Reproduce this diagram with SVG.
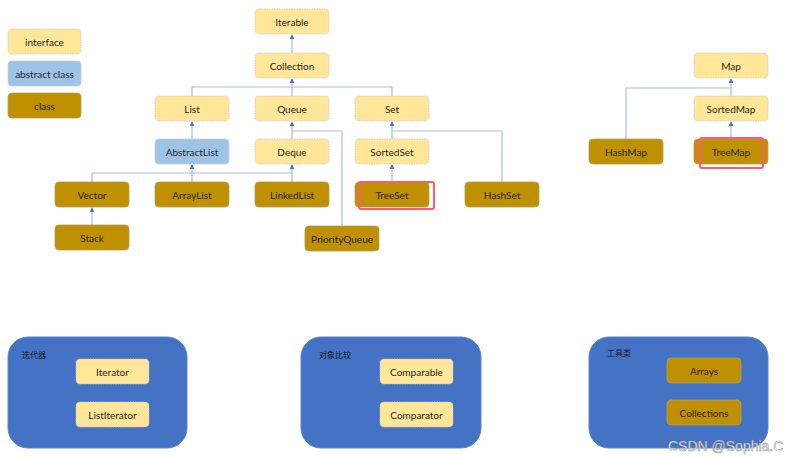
<svg xmlns="http://www.w3.org/2000/svg" width="786" height="460" viewBox="0 0 786 460">
<defs>
<marker id="arr" viewBox="0 0 6 6" refX="5" refY="3" markerWidth="4" markerHeight="4" orient="auto">
<path d="M0,0 L6,3 L0,6 z" fill="#4472c4"/>
</marker>
<style>
.i{fill:#ffe699;stroke:#c9c9c9;stroke-width:0.8;stroke-dasharray:1.5 1}
.a{fill:#9dc3e6;stroke:#c9c9c9;stroke-width:0.8}
.c{fill:#bf9000;stroke:#b0a060;stroke-width:0.8}
.t{font-family:Lato,"Open Sans",sans-serif;font-size:10px;fill:#262626;text-anchor:middle;dominant-baseline:central}
.g{fill:#4472c4;stroke:#5b83cc;stroke-width:1}
.gl{font-family:"Noto Sans CJK SC",sans-serif;font-size:8px;fill:#1a1a1a}
.ln{fill:none;stroke:#a9bcdc;stroke-width:1.2}
.ar{marker-end:url(#arr)}
.hl{fill:none;stroke:#ff5a6e;stroke-width:2}
</style>
</defs>
<rect width="786" height="460" fill="#ffffff"/>

<g id="connectors">
<path class="ln ar" d="M292,53 L292,35"/>
<path class="ln" d="M192,96 L192,87 L392,87 L392,96 M292,96 L292,87"/>
<path class="ln ar" d="M292,87 L292,79"/>
<path class="ln ar" d="M192,139 L192,122"/>
<path class="ln" d="M292,139 L292,131 L342,131 L342,226"/>
<path class="ln ar" d="M292,131 L292,122"/>
<path class="ln" d="M392,139 L392,131 L502,131 L502,182"/>
<path class="ln ar" d="M392,131 L392,122"/>
<path class="ln" d="M92,182 L92,173 L292,173 L292,182 M192,182 L192,173"/>
<path class="ln ar" d="M192,173 L192,165"/>
<path class="ln ar" d="M292,173 L292,165"/>
<path class="ln ar" d="M392,182 L392,165"/>
<path class="ln ar" d="M92,225 L92,208"/>
<path class="ln" d="M626,139 L626,88 L731,88 L731,96"/>
<path class="ln ar" d="M731,88 L731,79"/>
<path class="ln ar" d="M731,139 L731,122"/>
</g>

<g id="legend-interface"><rect class="i" x="8" y="29" width="73" height="25" rx="4"/><text class="t" x="44.5" y="41.5">interface</text></g>
<g id="legend-abstract"><rect class="a" x="8" y="61" width="73" height="25" rx="4"/><text class="t" x="44.5" y="73.5">abstract class</text></g>
<g id="legend-class"><rect class="c" x="8" y="93" width="73" height="25" rx="4"/><text class="t" x="44.5" y="105.5">class</text></g>

<g id="Iterable"><rect class="i" x="255" y="9" width="74" height="25" rx="4"/><text class="t" x="292" y="21.5">Iterable</text></g>
<g id="Collection"><rect class="i" x="255" y="53" width="74" height="25" rx="4"/><text class="t" x="292" y="65.5">Collection</text></g>
<g id="List"><rect class="i" x="155" y="96" width="74" height="25" rx="4"/><text class="t" x="192" y="108.5">List</text></g>
<g id="Queue"><rect class="i" x="255" y="96" width="74" height="25" rx="4"/><text class="t" x="292" y="108.5">Queue</text></g>
<g id="Set"><rect class="i" x="355" y="96" width="74" height="25" rx="4"/><text class="t" x="392" y="108.5">Set</text></g>
<g id="AbstractList"><rect class="a" x="155" y="139" width="74" height="25" rx="4"/><text class="t" x="192" y="151.5">AbstractList</text></g>
<g id="Deque"><rect class="i" x="255" y="139" width="74" height="25" rx="4"/><text class="t" x="292" y="151.5">Deque</text></g>
<g id="SortedSet"><rect class="i" x="355" y="139" width="74" height="25" rx="4"/><text class="t" x="392" y="151.5">SortedSet</text></g>
<g id="Vector"><rect class="c" x="55" y="182" width="74" height="25" rx="4"/><text class="t" x="92" y="194.5">Vector</text></g>
<g id="ArrayList"><rect class="c" x="155" y="182" width="74" height="25" rx="4"/><text class="t" x="192" y="194.5">ArrayList</text></g>
<g id="LinkedList"><rect class="c" x="255" y="182" width="74" height="25" rx="4"/><text class="t" x="292" y="194.5">LinkedList</text></g>
<g id="TreeSet"><rect class="c" x="355" y="182" width="74" height="25" rx="4"/><text class="t" x="392" y="194.5">TreeSet</text><rect class="hl" x="359" y="182" width="75" height="27" rx="2"/></g>
<g id="HashSet"><rect class="c" x="465" y="182" width="74" height="25" rx="4"/><text class="t" x="502" y="194.5">HashSet</text></g>
<g id="Stack"><rect class="c" x="55" y="225" width="74" height="25" rx="4"/><text class="t" x="92" y="237.5">Stack</text></g>
<g id="PriorityQueue"><rect class="c" x="305" y="226" width="74" height="25" rx="4"/><text class="t" x="342" y="238.5">PriorityQueue</text></g>

<g id="Map"><rect class="i" x="694" y="53" width="74" height="25" rx="4"/><text class="t" x="731" y="65.5">Map</text></g>
<g id="SortedMap"><rect class="i" x="694" y="96" width="74" height="25" rx="4"/><text class="t" x="731" y="108.5">SortedMap</text></g>
<g id="HashMap"><rect class="c" x="589" y="139" width="74" height="25" rx="4"/><text class="t" x="626" y="151.5">HashMap</text></g>
<g id="TreeMap"><rect class="c" x="694" y="139" width="74" height="25" rx="4"/><text class="t" x="731" y="151.5">TreeMap</text><rect class="hl" x="700" y="138" width="63" height="30" rx="2"/></g>

<g id="group-iterator">
<rect class="g" x="8" y="337" width="179" height="111" rx="20"/>
<text class="gl" x="22" y="358">迭代器</text>
<g id="Iterator"><rect class="i" x="76" y="359" width="73" height="25" rx="4"/><text class="t" x="112.5" y="371.5">Iterator</text></g>
<g id="ListIterator"><rect class="i" x="76" y="402" width="73" height="25" rx="4"/><text class="t" x="112.5" y="414.5">ListIterator</text></g>
</g>
<g id="group-compare">
<rect class="g" x="301" y="337" width="180" height="111" rx="20"/>
<text class="gl" x="319" y="358">对象比较</text>
<g id="Comparable"><rect class="i" x="380" y="359" width="73" height="25" rx="4"/><text class="t" x="416.5" y="371.5">Comparable</text></g>
<g id="Comparator"><rect class="i" x="380" y="402" width="73" height="25" rx="4"/><text class="t" x="416.5" y="414.5">Comparator</text></g>
</g>
<g id="group-tools">
<rect class="g" x="589" y="337" width="179" height="111" rx="20"/>
<text class="gl" x="607" y="356">工具类</text>
<g id="Arrays"><rect class="c" x="667" y="358" width="74" height="25" rx="4"/><text class="t" x="704" y="370.5">Arrays</text></g>
<g id="Collections"><rect class="c" x="667" y="400" width="74" height="25" rx="4"/><text class="t" x="704" y="412.5">Collections</text></g>
</g>
<text x="668" y="451" font-family="Liberation Sans,sans-serif" font-size="14" fill="#ffffff" stroke="#8a8a8a" stroke-width="0.5">CSDN @Sophia.C</text>
</svg>
